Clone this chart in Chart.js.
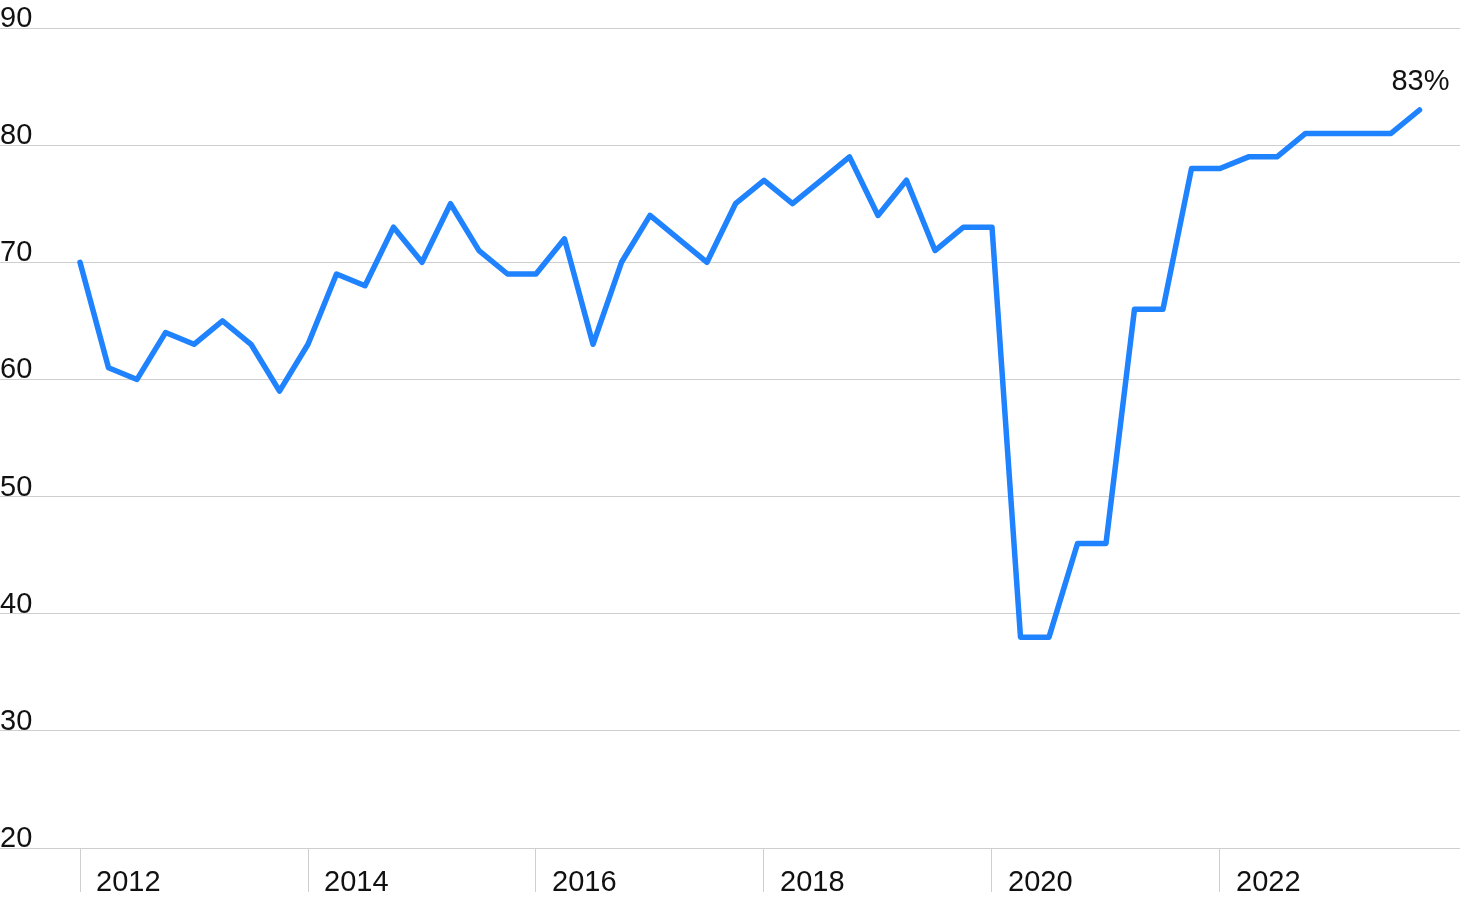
<!DOCTYPE html>
<html>
<head>
<meta charset="utf-8">
<script src="https://cdn.jsdelivr.net/npm/chart.js@4.4.1/dist/chart.umd.min.js"></script>
<style>
  html,body{margin:0;padding:0;background:#fff}
  #wrap{width:1460px;height:901px;position:relative}
</style>
</head>
<body>
<div id="wrap"><canvas id="cvs"></canvas></div>
<script>
// 季度（x 軸類別）
const PERIODS = [
  '2012Q1','2012Q2','2012Q3','2012Q4','2013Q1','2013Q2','2013Q3','2013Q4',
  '2014Q1','2014Q2','2014Q3','2014Q4','2015Q1','2015Q2','2015Q3','2015Q4',
  '2016Q1','2016Q2','2016Q3','2016Q4','2017Q1','2017Q2','2017Q3','2017Q4',
  '2018Q1','2018Q2','2018Q3','2018Q4','2019Q1','2019Q2','2019Q3','2019Q4',
  '2020Q1','2020Q2','2020Q3','2020Q4','2021Q1','2021Q2','2021Q3','2021Q4',
  '2022Q1','2022Q2','2022Q3','2022Q4','2023Q1','2023Q2','2023Q3','2023Q4'
];
// 數值（%）
const VALUES = [
  70,61,60,64,63,65,63,59,
  63,69,68,73,70,75,71,69,
  69,72,63,70,74,72,70,75,
  77,75,77,79,74,77,71,73,
  73,38,38,46,46,66,66,78,
  78,79,79,81,81,81,81,83
];
const YEAR_TICKS = [2012, 2014, 2016, 2018, 2020, 2022];
const Y_TICKS = [20, 30, 40, 50, 60, 70, 80, 90];
const LAST_LABEL = '83%';

const FONT = '"Liberation Sans", Arial, sans-serif';
const toX = p => +p.slice(0,4) + (+p.slice(5) - 1) / 4;
const points = PERIODS.map((p,i) => ({x: toX(p), y: VALUES[i]}));

const endLabel = {
  id: 'endLabel',
  afterDatasetsDraw(c){
    const pt = c.getDatasetMeta(0).data.at(-1);
    if (!pt) return;
    const {ctx} = c;
    ctx.save();
    ctx.font = `29px ${FONT}`;
    ctx.fillStyle = '#111';
    ctx.textAlign = 'center';
    ctx.textBaseline = 'alphabetic';
    ctx.fillText(LAST_LABEL, pt.x + 1, pt.y - 20);
    ctx.restore();
  }
};

new Chart(document.getElementById('cvs'), {
  type: 'line',
  data: {
    datasets: [{
      data: points,
      borderColor: '#1f82ff',
      borderWidth: 5.5,
      borderCapStyle: 'round',
      borderJoinStyle: 'round',
      pointRadius: 0,
      tension: 0
    }]
  },
  options: {
    responsive: true,
    maintainAspectRatio: false,
    animation: false,
    layout: {padding: {top: 28, left: 0, right: 0, bottom: 0}},
    plugins: {legend: {display: false}, tooltip: {enabled: false}},
    scales: {
      x: {
        type: 'linear',
        min: 2012 - 80/114,
        max: 2012 - 80/114 + 1460/114,
        afterBuildTicks: s => { s.ticks = YEAR_TICKS.map(v => ({value: v})); },
        afterFit: s => { s.height = 53; },
        grid: {drawOnChartArea: false, drawTicks: true, tickLength: 44, color: '#cfcfcf', lineWidth: 1},
        border: {display: false},
        ticks: {
          align: 'start',
          labelOffset: 16,
          padding: -26,
          maxRotation: 0,
          autoSkip: false,
          color: '#111',
          font: {family: FONT, size: 29},
          callback: v => String(v)
        }
      },
      y: {
        min: 20,
        max: 90,
        afterBuildTicks: s => { s.ticks = Y_TICKS.map(v => ({value: v})); },
        grid: {drawTicks: false, color: '#cfcfcf', lineWidth: 1},
        border: {display: false},
        ticks: {
          mirror: true,
          padding: 0,
          labelOffset: -9,
          color: '#111',
          font: {family: FONT, size: 29},
          callback: v => String(v)
        }
      }
    }
  },
  plugins: [endLabel]
});
</script>
</body>
</html>
